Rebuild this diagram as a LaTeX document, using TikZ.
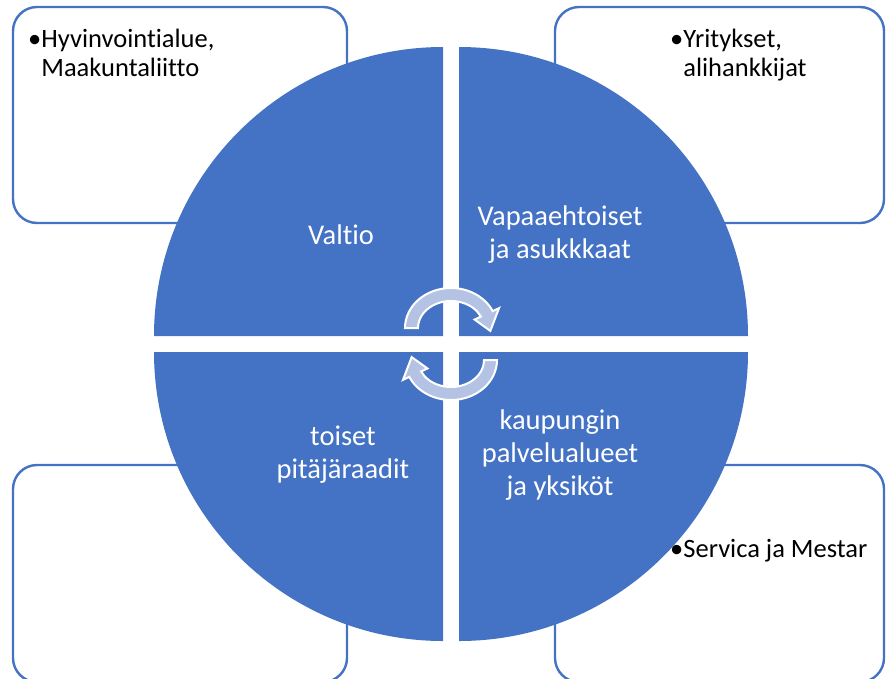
\documentclass[tikz,border=0pt]{standalone}
\usepackage{fontspec}
\setmainfont[Ligatures=NoCommon]{Carlito}
\usepackage{tikz}
\usetikzlibrary{calc}
\definecolor{sininen}{HTML}{4472C4}
\definecolor{vaaleaSininen}{HTML}{B4C2E4}
\definecolor{tekstiMusta}{HTML}{000000}

\begin{document}
\begin{tikzpicture}[x=1pt,y=-1pt,
  kehys/.style={draw=sininen,line width=2.4pt,fill=white,rounded corners=24pt},
  lohko/.style={fill=sininen},
  lohkoTeksti/.style={text=white,align=center,inner sep=0pt,font=\fontsize{28.5}{33}\selectfont},
  laatikkoTeksti/.style={text=tekstiMusta,anchor=base west,inner sep=0pt,font=\fontsize{26.5}{29}\selectfont},
  kiertoNuoli/.style={fill=vaaleaSininen,draw=white,line width=2pt}]
\useasboundingbox (0,0) rectangle (886,678);
\clip (0,0) rectangle (886,678);
% laatikot
\draw[kehys] (13,7) rectangle (347,223);
\draw[kehys] (555,7) rectangle (884,223);
\draw[kehys] (13,465) rectangle (347,682);
\draw[kehys] (555,465) rectangle (884,682);
% ympyran neljannekset
\fill[lohko] (443,336) -- ++(180:289) arc[start angle=180,end angle=270,radius=289] -- cycle;
\fill[lohko] (459,336) -- ++(270:289) arc[start angle=270,end angle=360,radius=289] -- cycle;
\fill[lohko] (459,352) -- ++(0:289) arc[start angle=0,end angle=90,radius=289] -- cycle;
\fill[lohko] (443,352) -- ++(90:289) arc[start angle=90,end angle=180,radius=289] -- cycle;
% kiertonuolet
\coordinate (ylaKierto) at (451,328);
\coordinate (alaKierto) at (451,360);
\path[kiertoNuoli] ([shift={(180:46 and 40)}]ylaKierto) arc[start angle=180,end angle=335,x radius=46,y radius=40]
  -- ([shift={(335:53 and 47)}]ylaKierto) -- ([shift={(5:39.5 and 33.5)}]ylaKierto)
  -- ([shift={(335:26 and 20)}]ylaKierto) -- ([shift={(335:33 and 27)}]ylaKierto)
  arc[start angle=335,end angle=180,x radius=33,y radius=27] -- cycle;
\path[kiertoNuoli] ([shift={(0:46 and 40)}]alaKierto) arc[start angle=0,end angle=155,x radius=46,y radius=40]
  -- ([shift={(155:53 and 47)}]alaKierto) -- ([shift={(185:39.5 and 33.5)}]alaKierto)
  -- ([shift={(155:26 and 20)}]alaKierto) -- ([shift={(155:33 and 27)}]alaKierto)
  arc[start angle=155,end angle=0,x radius=33,y radius=27] -- cycle;
% tekstit
\node[lohkoTeksti] (valtio) at (341,235) {Valtio};
\node[lohkoTeksti] (vapaaehtoiset) at (560,235) {Vapaaehtoiset\\ja asukkkaat};
\node[lohkoTeksti] (pitajaraadit) at (343,455) {toiset\\pitäjäraadit};
\node[lohkoTeksti] (palvelualueet) at (560,455) {kaupungin\\palvelualueet\\ja yksiköt};
\node[laatikkoTeksti] (hyvinvointi) at (28,47) {\textbullet\begin{tabular}[t]{@{}l@{}}Hyvinvointialue,\\Maakuntaliitto\end{tabular}};
\node[laatikkoTeksti] (yritykset) at (670,47) {\textbullet\begin{tabular}[t]{@{}l@{}}Yritykset,\\alihankkijat\end{tabular}};
\node[laatikkoTeksti] (servica) at (670,557) {\textbullet Servica ja Mestar};
\end{tikzpicture}
\end{document}
